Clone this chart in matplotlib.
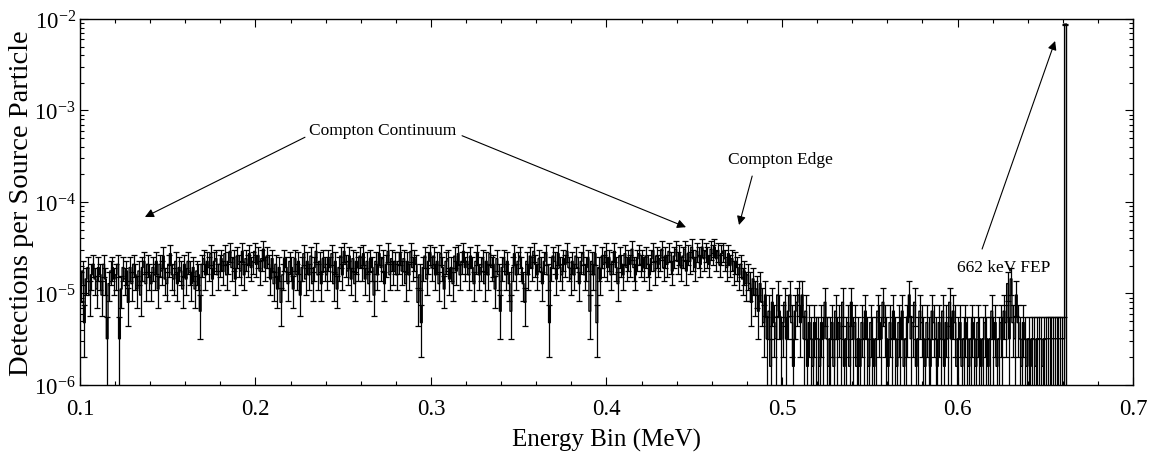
import numpy as np
import matplotlib
matplotlib.use("Agg")
import matplotlib.pyplot as plt
from matplotlib.ticker import MultipleLocator, LogLocator, LogFormatterMathtext

# --- Data: counts per 1 keV bin, 0.100 MeV upward (one row = 20 keV) ---
BIN_START = 0.100  # MeV
BIN_WIDTH = 0.001  # MeV
COUNT_UNIT = 1.6e-6  # detections per source particle for one count

counts = [
    8, 11, 3, 9, 12, 6, 10, 13, 9, 7, 12, 10, 6, 13, 9, 2, 8, 11, 12, 9,
    10, 13, 2, 7, 12, 9, 11, 5, 12, 8, 13, 10, 7, 11, 6, 12, 14, 8, 13, 10,
    8, 12, 10, 14, 7, 13, 11, 16, 9, 8, 13, 17, 10, 9, 14, 8, 12, 11, 7, 13,
    9, 14, 11, 8, 12, 7, 11, 10, 4, 13, 15, 10, 14, 12, 17, 9, 14, 15, 10, 13,
    15, 11, 17, 10, 14, 18, 12, 15, 9, 16, 13, 11, 18, 10, 15, 13, 17, 12, 14, 18,
    13, 16, 11, 15, 19, 12, 16, 13, 9, 15, 8, 13, 7, 12, 5, 10, 15, 12, 8, 14,
    12, 7, 15, 10, 14, 6, 12, 17, 9, 14, 10, 16, 8, 12, 18, 10, 14, 8, 15, 12,
    10, 15, 12, 17, 8, 14, 7, 12, 16, 10, 18, 13, 11, 16, 9, 15, 8, 14, 12, 16,
    12, 17, 9, 14, 8, 15, 12, 6, 14, 10, 17, 12, 15, 8, 13, 18, 10, 15, 11, 14,
    10, 14, 17, 11, 15, 8, 14, 10, 18, 12, 15, 13, 5, 10, 3, 12, 16, 9, 14, 17,
    12, 16, 10, 14, 8, 17, 12, 7, 14, 15, 9, 12, 8, 16, 11, 17, 10, 14, 18, 12,
    14, 10, 16, 12, 8, 14, 17, 10, 12, 15, 8, 14, 10, 17, 12, 13, 7, 15, 10, 4,
    12, 15, 10, 14, 8, 4, 12, 17, 10, 14, 16, 12, 8, 5, 14, 10, 16, 12, 18, 13,
    10, 15, 12, 8, 14, 17, 10, 3, 12, 16, 14, 9, 17, 12, 10, 15, 13, 18, 12, 9,
    14, 10, 16, 12, 8, 14, 17, 10, 12, 15, 4, 14, 10, 17, 3, 12, 9, 16, 13, 18,
    12, 15, 10, 14, 18, 12, 8, 16, 13, 10, 17, 12, 15, 13, 19, 12, 10, 15, 17, 13,
    15, 12, 16, 13, 10, 15, 18, 11, 16, 13, 15, 19, 12, 16, 13, 18, 14, 11, 16, 19,
    14, 17, 12, 16, 19, 11, 17, 14, 20, 15, 12, 18, 16, 13, 20, 15, 18, 16, 13, 19,
    17, 20, 15, 18, 13, 17, 18, 15, 12, 17, 13, 15, 11, 14, 12, 10, 13, 9, 11, 8,
    10, 8, 5, 9, 6, 7, 4, 8, 5, 3, 6, 2, 4, 1, 5, 3, 2, 6, 4, 2,
    3, 5, 2, 4, 6, 3, 1, 4, 5, 6, 3, 6, 2, 4, 1, 3, 2, 1, 3, 2,
    2, 1, 3, 2, 5, 2, 1, 2, 3, 1, 4, 2, 3, 2, 5, 1, 2, 3, 1, 5,
    2, 3, 1, 2, 1, 3, 2, 4, 2, 1, 3, 2, 1, 2, 4, 3, 2, 5, 3, 2,
    1, 3, 2, 4, 2, 1, 3, 2, 4, 1, 2, 3, 6, 2, 3, 5, 1, 2, 4, 3,
    2, 1, 3, 2, 1, 4, 3, 2, 1, 3, 2, 4, 1, 3, 2, 5, 2, 4, 3, 1,
    2, 3, 1, 2, 3, 2, 1, 2, 3, 2, 1, 3, 2, 1, 2, 3, 2, 1, 2, 4,
    2, 3, 1, 2, 3, 2, 4, 3, 8, 2, 9, 3, 2, 6, 3, 2, 1, 3, 2, 1,
    2, 1, 2, 2, 1, 2, 2, 2, 1, 2, 2, 2, 2, 2, 2, 2, 2, 2, 2, 2,
    2, 5500,
]

x_ticks = [0.1, 0.2, 0.3, 0.4, 0.5, 0.6, 0.7]

# --- Derived arrays ---
counts = np.array(counts, dtype=float)
edges = BIN_START + BIN_WIDTH * np.arange(len(counts) + 1)
centers = 0.5 * (edges[:-1] + edges[1:])
vals = counts * COUNT_UNIT
errs = np.sqrt(counts) * COUNT_UNIT

plt.rcParams['font.family'] = ['Liberation Serif', 'DejaVu Serif']
plt.rcParams['mathtext.fontset'] = 'stix'

fig = plt.figure(figsize=(11.49, 4.6), dpi=100)
ax = fig.add_axes([0.0696, 0.161, 0.9165, 0.7955])

# histogram as steps, with 1-sigma error bars
ax.step(edges, np.append(vals, vals[-1]), where='post', color='k', lw=1.0)
ax.vlines(edges[-1], 1e-7, vals[-1], color='k', lw=1.0)
ax.errorbar(centers, vals, yerr=errs, fmt='none', ecolor='k',
            elinewidth=0.9, capsize=2.5, capthick=0.9)

ax.set_yscale('log')
ax.set_xlim(0.1, 0.7)
ax.set_ylim(1e-6, 1e-2)

ax.set_xticks(x_ticks)
ax.set_xticklabels([f"{t:.1f}" for t in x_ticks])
ax.xaxis.set_minor_locator(MultipleLocator(0.02))
ax.yaxis.set_major_locator(LogLocator(base=10, numticks=10))
ax.yaxis.set_minor_locator(LogLocator(base=10, subs=np.arange(2, 10), numticks=20))
ax.yaxis.set_major_formatter(LogFormatterMathtext())

ax.tick_params(which='both', direction='in', top=True, right=True,
               labelsize=16.5, width=0.8)
ax.tick_params(which='major', length=6)
ax.tick_params(which='minor', length=3)
ax.tick_params(axis='x', which='major', pad=9.5)
ax.tick_params(axis='y', which='major', pad=3)
for s in ax.spines.values():
    s.set_linewidth(1.0)

ax.set_xlabel("Energy Bin (MeV)", fontsize=18, labelpad=6)
ax.set_ylabel("Detections per Source Particle", fontsize=20.5, labelpad=0)

# --- Annotations ---
arrow = dict(arrowstyle='-|>', color='k', lw=0.8, mutation_scale=13,
             shrinkA=0, shrinkB=0)
ax.text(0.2727, 6.1e-4, "Compton Continuum", fontsize=12.5, ha='center', va='center')
ax.annotate("", xy=(0.137, 6.85e-5), xytext=(0.2282, 5.1e-4), arrowprops=arrow)
ax.annotate("", xy=(0.4453, 5.3e-5), xytext=(0.3177, 5.3e-4), arrowprops=arrow)

ax.text(0.4989, 2.95e-4, "Compton Edge", fontsize=12.5, ha='center', va='center')
ax.annotate("", xy=(0.4755, 5.6e-5), xytext=(0.483, 1.92e-4), arrowprops=arrow)

ax.text(0.6265, 1.95e-5, "662 keV FEP", fontsize=12.5, ha='center', va='center')
ax.annotate("", xy=(0.6556, 5.75e-3), xytext=(0.614, 3.06e-5), arrowprops=arrow)

fig.savefig("out.png", dpi=100)
